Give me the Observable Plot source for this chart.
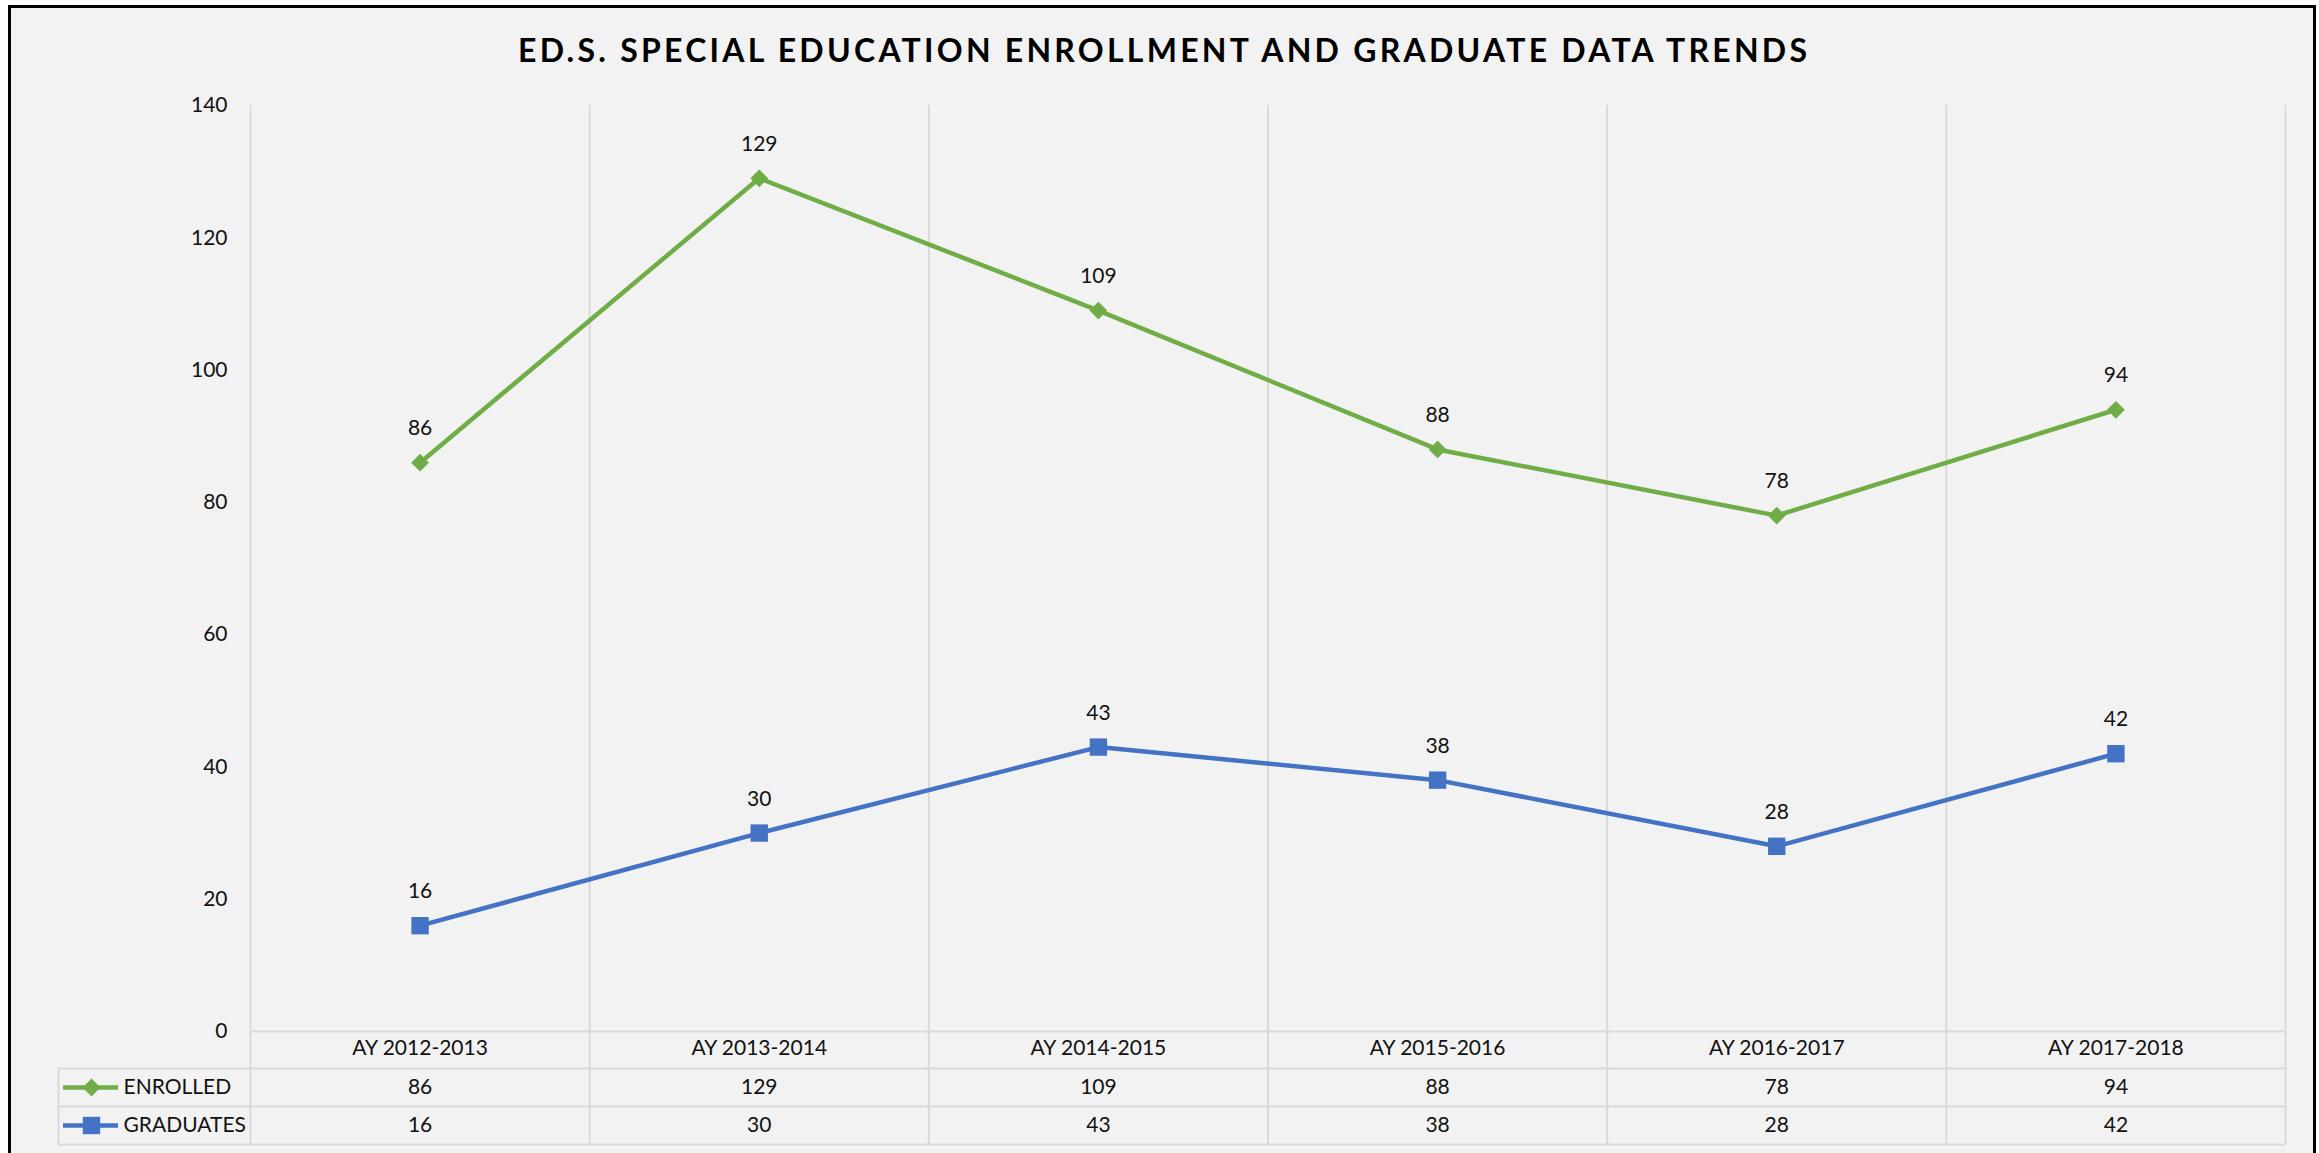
<!DOCTYPE html>
<html><head><meta charset="utf-8">
<script src="https://cdn.jsdelivr.net/npm/d3@7"></script>
<script src="https://cdn.jsdelivr.net/npm/@observablehq/plot@0.6"></script>
<style>
html,body{margin:0;padding:0;background:#fff;overflow:hidden;}
#wrap{position:relative;width:2319px;height:1153px;overflow:hidden;}
#frame{position:absolute;left:8px;top:5px;width:2308px;height:1170px;box-sizing:border-box;border:3px solid #000;background:#f2f2f2;}
#title{position:absolute;left:518px;top:34px;font-family:Lato,sans-serif;font-weight:700;font-size:32px;line-height:32px;white-space:nowrap;color:#000;}
#chart{position:absolute;left:0;top:0;}
</style></head><body>
<div id="wrap"><div id="frame"></div><div id="title">ED.S. SPECIAL EDUCATION ENROLLMENT AND GRADUATE DATA TRENDS</div><div id="chart"></div></div>
<script>
const categories = ["AY 2012-2013","AY 2013-2014","AY 2014-2015","AY 2015-2016","AY 2016-2017","AY 2017-2018"];
const enrolled = [86,129,109,88,78,94];
const graduates = [16,30,43,38,28,42];
const seriesNames = ["ENROLLED","GRADUATES"];
const seriesColors = ["#70ad47","#4472c4"];
const yTicks = [0,20,40,60,80,100,120,140];

const idx = categories.map((c,i)=>i);
const enr = idx.map(i=>({i, cat:categories[i], value:enrolled[i]}));
const grd = idx.map(i=>({i, cat:categories[i], value:graduates[i]}));
const edges = d3.range(-0.5, categories.length, 1);
const grid = "#d9d9d9";
const txt = "#111";

const plot = Plot.plot({
  width: 2319, height: 1153,
  marginLeft: 250, marginRight: 34, marginTop: 105, marginBottom: 122,
  style: {fontFamily: "Lato, sans-serif", fontSize: "21px", color: txt, background: "transparent", overflow: "visible"},
  x: {type: "linear", domain: [-0.5, categories.length - 0.5]},
  y: {domain: [0, 140]},
  marks: [
    Plot.ruleX(edges, {x: d=>d, stroke: grid, strokeWidth: 2, insetBottom: -113}),
    Plot.ruleY([0], {stroke: grid, strokeWidth: 2}),
    Plot.ruleY([0], {stroke: grid, strokeWidth: 2, dy: 37, insetLeft: -192}),
    Plot.ruleY([0], {stroke: grid, strokeWidth: 2, dy: 75, insetLeft: -192}),
    Plot.ruleY([0], {stroke: grid, strokeWidth: 2, dy: 113, insetLeft: -192}),
    Plot.ruleX([-0.5], {x: d=>d, y1: ()=>0, y2: ()=>0, dx: -192, dy: 37, insetBottom: -76, stroke: grid, strokeWidth: 2}),
    Plot.axisY({ticks: yTicks, tickSize: 0, tickPadding: 23, fontSize: 21, label: null}),
    Plot.axisX({ticks: idx, tickFormat: i=>categories[i], tickSize: 0, tickPadding: 9, fontSize: 21, label: null}),
    Plot.line(enr, {x: "i", y: "value", stroke: seriesColors[0], strokeWidth: 4.5}),
    Plot.line(grd, {x: "i", y: "value", stroke: seriesColors[1], strokeWidth: 4.5}),
    Plot.dot(enr, {x: "i", y: "value", symbol: "diamond2", r: 8, fill: seriesColors[0], stroke: "none"}),
    Plot.dot(grd, {x: "i", y: "value", symbol: "square", r: 9.8, fill: seriesColors[1], stroke: "none"}),
    Plot.text(enr, {x: "i", y: "value", text: d=>String(d.value), dy: -34, fill: txt, fontSize: 21}),
    Plot.text(grd, {x: "i", y: "value", text: d=>String(d.value), dy: -34, fill: txt, fontSize: 21}),
    Plot.text(enr, {x: "i", y: ()=>0, text: d=>String(d.value), dy: 56, fill: txt, fontSize: 21}),
    Plot.text(grd, {x: "i", y: ()=>0, text: d=>String(d.value), dy: 94, fill: txt, fontSize: 21}),
    Plot.ruleY([0], {x1: ()=>-0.5, x2: ()=>-0.5, y: d=>d, dy: 56, insetLeft: -187, insetRight: 132, stroke: seriesColors[0], strokeWidth: 4.5}),
    Plot.ruleY([0], {x1: ()=>-0.5, x2: ()=>-0.5, y: d=>d, dy: 94, insetLeft: -187, insetRight: 132, stroke: seriesColors[1], strokeWidth: 4.5}),
    Plot.dot([0], {x: ()=>-0.5, y: d=>d, dx: -159, dy: 56, symbol: "diamond2", r: 8, fill: seriesColors[0], stroke: "none"}),
    Plot.dot([0], {x: ()=>-0.5, y: d=>d, dx: -159, dy: 94, symbol: "square", r: 9.8, fill: seriesColors[1], stroke: "none"}),
    Plot.text([seriesNames[0]], {x: ()=>-0.5, y: ()=>0, text: d=>d, dx: -127, dy: 56, textAnchor: "start", fill: txt, fontSize: 21}),
    Plot.text([seriesNames[1]], {x: ()=>-0.5, y: ()=>0, text: d=>d, dx: -127, dy: 94, textAnchor: "start", fill: txt, fontSize: 21})
  ]
});
document.getElementById("chart").appendChild(plot);

function fitTitle(){
  const t = document.getElementById("title");
  t.style.letterSpacing = "0px";
  const w = t.getBoundingClientRect().width;
  const n = t.textContent.length;
  t.style.letterSpacing = ((1289 - w) / (n - 1)) + "px";
}
fitTitle();
if (document.fonts && document.fonts.ready) document.fonts.ready.then(fitTitle);
</script>
</body></html>
